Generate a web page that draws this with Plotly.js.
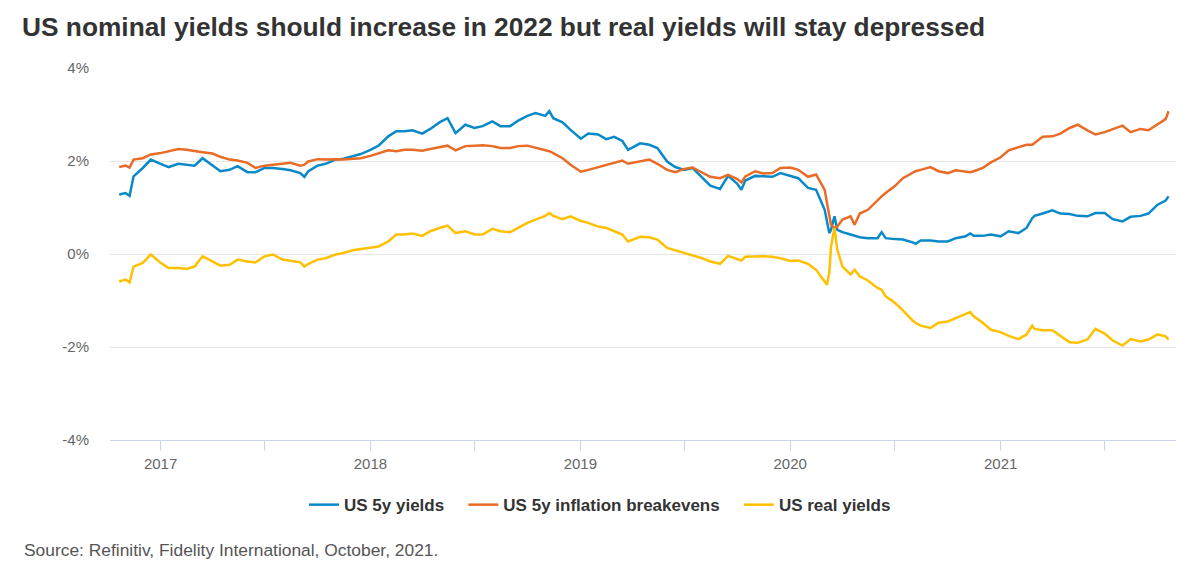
<!DOCTYPE html>
<html>
<head>
<meta charset="utf-8">
<script src="https://cdn.plot.ly/plotly-3.0.1.min.js"></script>
<style>html,body{margin:0;padding:0;background:#fff;}#chart{width:1200px;height:576px;}</style>
</head>
<body>
<div id="chart"></div>
<script>
const dates = ["2016-10-21","2016-11-01","2016-11-08","2016-11-15","2016-12-01","2016-12-15",
"2017-01-01","2017-01-15","2017-02-01","2017-02-15","2017-03-01","2017-03-15","2017-04-01","2017-04-15","2017-05-01","2017-05-15","2017-06-01","2017-06-15","2017-07-01","2017-07-15","2017-08-01","2017-08-15","2017-09-01","2017-09-08","2017-09-15","2017-10-01","2017-10-15","2017-11-01","2017-11-15","2017-12-01","2017-12-15",
"2018-01-01","2018-01-15","2018-02-01","2018-02-15","2018-03-01","2018-03-15","2018-04-01","2018-04-15","2018-05-01","2018-05-15","2018-05-29","2018-06-15","2018-07-01","2018-07-15","2018-08-01","2018-08-15","2018-09-01","2018-09-15","2018-10-01","2018-10-15","2018-11-01","2018-11-08","2018-11-15","2018-12-01","2018-12-15",
"2019-01-02","2019-01-15","2019-02-01","2019-02-15","2019-03-01","2019-03-15","2019-03-25","2019-04-15","2019-05-01","2019-05-15","2019-06-01","2019-06-15","2019-07-01","2019-07-15","2019-08-01","2019-08-15","2019-09-01","2019-09-15","2019-10-01","2019-10-08","2019-10-15","2019-11-01","2019-11-15","2019-12-01","2019-12-15",
"2020-01-01","2020-01-15","2020-02-01","2020-02-15","2020-03-01","2020-03-05","2020-03-09","2020-03-12","2020-03-18","2020-03-23","2020-04-01","2020-04-15","2020-04-22","2020-05-01","2020-05-15","2020-06-01","2020-06-08","2020-06-15","2020-07-01","2020-07-15","2020-08-01","2020-08-06","2020-08-15","2020-09-01","2020-09-15","2020-10-01","2020-10-15","2020-11-01","2020-11-09","2020-11-15","2020-12-01","2020-12-15",
"2021-01-01","2021-01-15","2021-02-01","2021-02-15","2021-02-25","2021-03-01","2021-03-15","2021-04-01","2021-04-15","2021-05-01","2021-05-15","2021-06-01","2021-06-15","2021-07-01","2021-07-15","2021-08-01","2021-08-15","2021-09-01","2021-09-15","2021-10-01","2021-10-15","2021-10-20"];

const us5yYields = [1.28,1.31,1.25,1.67,1.85,2.03,
1.94,1.87,1.94,1.92,1.90,2.06,1.90,1.78,1.81,1.89,1.76,1.76,1.85,1.85,1.83,1.80,1.74,1.66,1.78,1.90,1.94,2.03,2.05,2.10,2.15,
2.24,2.33,2.53,2.64,2.64,2.66,2.59,2.69,2.83,2.92,2.60,2.78,2.71,2.75,2.85,2.75,2.75,2.87,2.97,3.03,2.97,3.07,2.92,2.83,2.67,
2.48,2.59,2.57,2.47,2.52,2.43,2.24,2.38,2.35,2.28,1.99,1.87,1.81,1.85,1.63,1.47,1.40,1.68,1.51,1.38,1.58,1.68,1.67,1.66,1.74,
1.68,1.63,1.42,1.38,0.95,0.67,0.45,0.52,0.81,0.52,0.47,0.42,0.39,0.36,0.34,0.34,0.47,0.34,0.32,0.31,0.25,0.22,0.29,0.29,0.27,0.27,0.34,0.38,0.44,0.39,0.39,0.42,
0.38,0.49,0.45,0.56,0.77,0.82,0.87,0.94,0.87,0.86,0.82,0.81,0.88,0.88,0.75,0.70,0.80,0.82,0.87,1.06,1.15,1.24];

const us5yBreakevens = [1.87,1.90,1.86,2.03,2.06,2.14,
2.17,2.21,2.26,2.24,2.21,2.19,2.16,2.09,2.03,2.01,1.96,1.85,1.90,1.92,1.94,1.96,1.90,1.92,1.99,2.04,2.03,2.04,2.03,2.04,2.06,
2.11,2.17,2.23,2.21,2.24,2.24,2.22,2.26,2.30,2.33,2.23,2.32,2.33,2.34,2.32,2.28,2.28,2.32,2.33,2.29,2.24,2.21,2.17,2.06,1.92,
1.77,1.81,1.87,1.92,1.97,2.01,1.94,1.99,2.03,1.94,1.81,1.76,1.83,1.86,1.76,1.66,1.63,1.70,1.61,1.54,1.67,1.78,1.73,1.74,1.85,
1.86,1.81,1.66,1.71,1.38,1.10,0.77,0.63,0.56,0.59,0.74,0.81,0.63,0.87,0.95,1.17,1.24,1.31,1.46,1.63,1.74,1.78,1.81,1.87,1.78,1.74,1.80,1.78,1.76,1.78,1.85,1.97,
2.08,2.23,2.30,2.35,2.35,2.39,2.52,2.53,2.59,2.71,2.78,2.66,2.57,2.62,2.69,2.76,2.62,2.69,2.66,2.78,2.90,3.07];

const usRealYields = [-0.59,-0.55,-0.61,-0.27,-0.19,-0.01,
-0.19,-0.30,-0.30,-0.32,-0.27,-0.05,-0.16,-0.25,-0.23,-0.12,-0.16,-0.18,-0.05,-0.01,-0.12,-0.14,-0.18,-0.27,-0.21,-0.12,-0.09,-0.01,0.02,0.08,0.11,
0.13,0.16,0.27,0.42,0.42,0.44,0.39,0.49,0.56,0.61,0.45,0.49,0.42,0.42,0.54,0.49,0.47,0.56,0.67,0.74,0.82,0.88,0.82,0.75,0.81,
0.71,0.67,0.59,0.56,0.49,0.42,0.27,0.37,0.36,0.31,0.13,0.08,0.02,-0.04,-0.09,-0.16,-0.21,-0.04,-0.11,-0.14,-0.06,-0.05,-0.05,-0.06,-0.09,
-0.15,-0.14,-0.21,-0.34,-0.59,-0.66,-0.41,0.16,0.56,0.09,-0.27,-0.44,-0.34,-0.48,-0.57,-0.73,-0.77,-0.91,-1.05,-1.21,-1.43,-1.48,-1.54,-1.59,-1.48,-1.45,-1.38,-1.30,-1.25,-1.34,-1.48,-1.63,
-1.68,-1.76,-1.83,-1.73,-1.54,-1.61,-1.64,-1.64,-1.76,-1.90,-1.91,-1.84,-1.61,-1.71,-1.86,-1.97,-1.83,-1.88,-1.84,-1.73,-1.77,-1.84];

const seriesNames = ["US 5y yields","US 5y inflation breakevens","US real yields"];
const seriesColors = ["#0A89C9","#EA6B26","#FFC000"];
const seriesValues = [us5yYields, us5yBreakevens, usRealYields];
const yTickValues = [-4, -2, 0, 2, 4];
const yTickLabels = ["-4%", "-2%", "0%", "2%", "4%"];

const pad = "&nbsp;&nbsp;&nbsp;";
const traces = seriesValues.map((vals, i) => ({
  type: "scatter", mode: "lines", x: dates, y: vals,
  name: seriesNames[i] + (i < seriesNames.length - 1 ? pad : ""),
  line: {color: seriesColors[i], width: 2.5},
  hoverinfo: "skip"
}));

const font = "'Liberation Sans', Arial, Helvetica, sans-serif";
const layout = {
  width: 1200, height: 576,
  margin: {l: 110, r: 24, t: 68, b: 136, autoexpand: false},
  paper_bgcolor: "#fff", plot_bgcolor: "#fff",
  font: {family: font, color: "#666"},
  title: {text: "<b>US nominal yields should increase in 2022 but real yields will stay depressed</b>",
    x: 22/1200, xanchor: "left", xref: "container", y: 1 - 27/576, yanchor: "middle", yref: "container",
    font: {family: font, size: 26.3, color: "#333"}},
  xaxis: {type: "date", range: ["2016-10-05", "2021-11-02"],
    tick0: "2017-01-01", dtick: "M12", tickformat: "%Y",
    ticks: "outside", ticklen: 10, tickwidth: 1, tickcolor: "#ccd6eb",
    showline: true, linecolor: "#ccd6eb", linewidth: 1, showgrid: false, zeroline: false,
    tickfont: {size: 15, color: "#666"}, ticklabelstandoff: 0,
    minor: {tick0: "2017-01-01", dtick: "M6", ticks: "outside", ticklen: 10, tickcolor: "#ccd6eb", showgrid: false}},
  yaxis: {range: [-4, 4], tickmode: "array", tickvals: yTickValues, ticktext: yTickLabels,
    showgrid: true, gridcolor: "#e6e6e6", gridwidth: 1, zeroline: false, showline: false,
    tickfont: {size: 15, color: "#666"}, ticklabelstandoff: 20},
  showlegend: true,
  legend: {orientation: "h", x: (600 - 110) / 1066, xanchor: "center", y: -0.175, yanchor: "middle",
    font: {family: font, size: 17, color: "#333", weight: "bold"}, traceorder: "normal"},
  annotations: [{text: "Source: Refinitiv, Fidelity International, October, 2021.",
    xref: "paper", yref: "paper", x: -88/1066, y: -110/372, xanchor: "left", yanchor: "middle",
    showarrow: false, font: {family: font, size: 17.4, color: "#555"}}]
};

Plotly.newPlot("chart", traces, layout, {displayModeBar: false, staticPlot: true});
</script>
</body>
</html>
